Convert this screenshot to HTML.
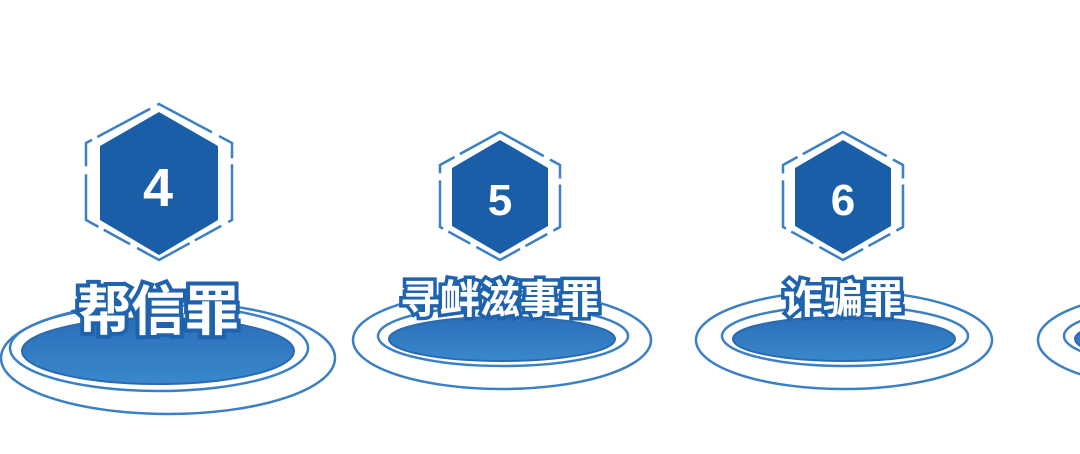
<!DOCTYPE html>
<html><head><meta charset="utf-8"><style>
html,body{margin:0;padding:0;background:#fff;width:1080px;height:454px;overflow:hidden}
text{font-family:"Liberation Sans","Noto Sans CJK SC",sans-serif;font-weight:bold}
</style></head><body>
<svg width="1080" height="454" viewBox="0 0 1080 454" xmlns="http://www.w3.org/2000/svg">
<defs>
<linearGradient id="g" x1="0" y1="0" x2="0" y2="1"><stop offset="0" stop-color="#2a6fb8"/><stop offset="1" stop-color="#3a88cc"/></linearGradient>
</defs>
<!-- group 1 -->
<g>
<ellipse cx="168" cy="358" rx="167" ry="56" fill="none" stroke="#3b7fc4" stroke-width="2.5"/>
<ellipse cx="159" cy="348" rx="149" ry="43" fill="none" stroke="#3b7fc4" stroke-width="2.5"/>
<ellipse cx="158" cy="351" rx="136" ry="33" fill="url(#g)" stroke="#2a6ab0" stroke-width="2"/>
<polygon points="159,104 232,143 232,220 159,260 86,220 86,143" fill="none" stroke="#3b7fc4" stroke-width="2.5" stroke-dasharray="60 8 30 6"/>
<polygon points="159,112 218,146 218,220 159,255 100,220 100,146" fill="#1b5ea8"/>
<text x="158" y="206" font-size="54" fill="#fff" text-anchor="middle">4</text>
<text x="158" y="330" font-size="54" fill="#fff" stroke="#1f62ad" stroke-width="8" paint-order="stroke" text-anchor="middle">帮信罪</text>
</g>
<!-- group 2 -->
<g>
<ellipse cx="502" cy="340" rx="149" ry="49" fill="none" stroke="#3b7fc4" stroke-width="2.5"/>
<ellipse cx="503" cy="336" rx="125" ry="30" fill="none" stroke="#3b7fc4" stroke-width="2.5"/>
<ellipse cx="502" cy="339" rx="113" ry="22" fill="url(#g)" stroke="#2a6ab0" stroke-width="2"/>
<polygon points="500,132 560,165 560,227 500,260 440,227 440,165" fill="none" stroke="#3b7fc4" stroke-width="2.5" stroke-dasharray="50 7 25 6"/>
<polygon points="500,140 548,168 548,226 500,254 452,226 452,168" fill="#1b5ea8"/>
<text x="500" y="215" font-size="44" fill="#fff" text-anchor="middle">5</text>
<text x="500" y="313" font-size="40" fill="#fff" stroke="#1f62ad" stroke-width="7" paint-order="stroke" text-anchor="middle">寻衅滋事罪</text>
</g>
<!-- group 3 -->
<g>
<ellipse cx="844" cy="340" rx="148" ry="49" fill="none" stroke="#3b7fc4" stroke-width="2.5"/>
<ellipse cx="845" cy="336" rx="123" ry="30" fill="none" stroke="#3b7fc4" stroke-width="2.5"/>
<ellipse cx="844" cy="339" rx="111" ry="22" fill="url(#g)" stroke="#2a6ab0" stroke-width="2"/>
<polygon points="843,132 903,165 903,227 843,260 783,227 783,165" fill="none" stroke="#3b7fc4" stroke-width="2.5" stroke-dasharray="50 7 25 6"/>
<polygon points="843,140 891,168 891,226 843,254 795,226 795,168" fill="#1b5ea8"/>
<text x="843" y="215" font-size="44" fill="#fff" text-anchor="middle">6</text>
<text x="843" y="313" font-size="40" fill="#fff" stroke="#1f62ad" stroke-width="7" paint-order="stroke" text-anchor="middle">诈骗罪</text>
</g>
<!-- group 4 partial -->
<g>
<ellipse cx="1186" cy="340" rx="148" ry="49" fill="none" stroke="#3b7fc4" stroke-width="2.5"/>
<ellipse cx="1187" cy="336" rx="123" ry="30" fill="none" stroke="#3b7fc4" stroke-width="2.5"/>
<ellipse cx="1186" cy="339" rx="111" ry="22" fill="url(#g)" stroke="#2a6ab0" stroke-width="2"/>
</g>
</svg>
</body></html>
